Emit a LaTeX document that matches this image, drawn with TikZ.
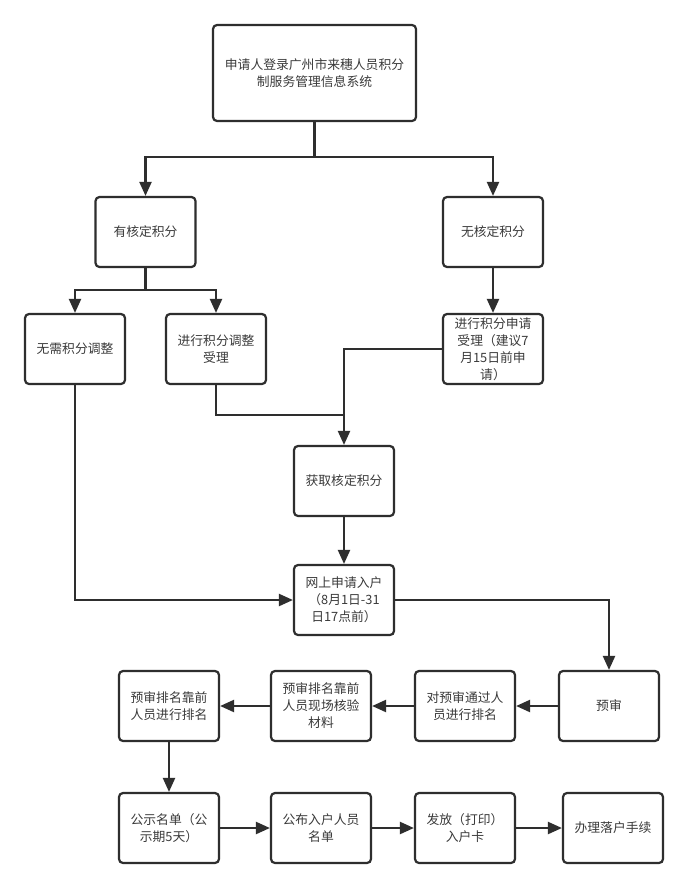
\documentclass[tikz,border=0pt]{standalone}
\usepackage{fontspec}
\setmainfont{Noto Sans CJK SC}
\usetikzlibrary{arrows.meta}
\definecolor{ln}{HTML}{2E2E2E}
\definecolor{tx}{HTML}{3A3A3A}
\begin{document}
\begin{tikzpicture}[x=1pt,y=-1pt,
  box/.style={draw=ln, line width=2.2pt, rounded corners=4pt, minimum width=100pt, minimum height=70pt,
    align=center, font=\fontsize{12.8}{17}\selectfont, text=tx, inner sep=2pt, fill=white},
  conn/.style={draw=ln, line width=2.2pt, -{Triangle[length=14pt,width=12pt]}},
  plain/.style={draw=ln, line width=2.2pt}]
\useasboundingbox[fill=white] (0,0) rectangle (688,888);
\node[box, minimum width=203pt, minimum height=96pt] (top) at (314.5,73) {申请人登录广州市来穗人员积分\\制服务管理信息系统};
\node[box] (b2) at (145.5,232) {有核定积分};
\node[box] (b3) at (493,232) {无核定积分};
\node[box] (b4) at (75,349) {无需积分调整};
\node[box] (b5) at (216,349) {进行积分调整\\受理};
\node[box] (b6) at (493,349) {进行积分申请\\受理（建议7\\月15日前申\\请）};
\node[box] (b7) at (344,481) {获取核定积分};
\node[box] (b8) at (344,600) {网上申请入户\\（8月1日-31\\日17点前）};
\node[box] (b9) at (609,706) {预审};
\node[box] (b10) at (465,706) {对预审通过人\\员进行排名};
\node[box] (b11) at (321,706) {预审排名靠前\\人员现场核验\\材料};
\node[box] (b12) at (169,706) {预审排名靠前\\人员进行排名};
\node[box] (b13) at (169,828) {公示名单（公\\示期5天）};
\node[box] (b14) at (321,828) {公布入户人员\\名单};
\node[box] (b15) at (465,828) {发放（打印）\\入户卡};
\node[box] (b16) at (613,828) {办理落户手续};
\coordinate (j1) at (314.5,157);
\coordinate (j2) at (145.5,290);
\coordinate (j3) at (344,415);
\draw[plain] (top.south) -- (j1);
\draw[conn] (j1) -| (b2.north);
\draw[conn] (j1) -| (b3.north);
\draw[plain] (b2.south) -- (j2);
\draw[conn] (j2) -| (b4.north);
\draw[conn] (j2) -| (b5.north);
\draw[conn] (b3) -- (b6);
\draw[conn] (b6.west) -| (b7.north);
\draw[plain] (b5.south) |- (j3);
\draw[conn] (b7) -- (b8);
\draw[conn] (b4.south) |- (b8.west);
\draw[conn] (b8.east) -| (b9.north);
\draw[conn] (b9) -- (b10);
\draw[conn] (b10) -- (b11);
\draw[conn] (b11) -- (b12);
\draw[conn] (b12) -- (b13);
\draw[conn] (b13) -- (b14);
\draw[conn] (b14) -- (b15);
\draw[conn] (b15) -- (b16);
\end{tikzpicture}
\end{document}
